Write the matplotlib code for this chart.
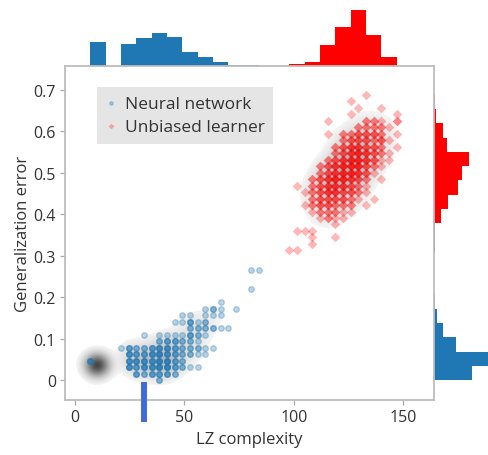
import numpy as np
import matplotlib
matplotlib.use("Agg")
import matplotlib.pyplot as plt


plt.rcParams['font.family'] = ['Open Sans', 'DejaVu Sans']

# grid steps of the two quantities
LZ_STEP = 3.5
ERR_STEP = 1.0 / 64

# neural network points: error index -> {lz index: how many overlap}
nn_rows = {
    0: {11: 2},
    1: {8: 3, 9: 2, 10: 3, 11: 3, 12: 3, 13: 2},
    2: {7: 4, 8: 3, 9: 4, 10: 4, 11: 5, 12: 5, 13: 3, 14: 2, 15: 1, 16: 1},
    3: {2: 3, 7: 4, 8: 4, 9: 4, 10: 4, 11: 5, 12: 5, 13: 3, 14: 2},
    4: {7: 4, 8: 3, 9: 3, 10: 4, 11: 5, 12: 4, 13: 3, 14: 2, 15: 2, 16: 1, 17: 1},
    5: {6: 1, 7: 3, 8: 2, 9: 2, 10: 3, 11: 4, 12: 4, 13: 3, 14: 2, 15: 2, 16: 2, 17: 1, 18: 1},
    6: {11: 2, 12: 3, 13: 3, 14: 2, 15: 2, 16: 1},
    7: {9: 1, 11: 1, 12: 1, 13: 1, 14: 1, 15: 3, 16: 2, 17: 1},
    8: {15: 2, 16: 2, 17: 2, 18: 2, 19: 1, 20: 1},
    9: {13: 1, 14: 1, 15: 3, 16: 1, 17: 2},
    10: {14: 1, 15: 1, 17: 1, 18: 1, 19: 1},
    11: {17: 1, 18: 2, 19: 1, 21: 1},
    12: {19: 1},
    14: {23: 1},
    17: {23: 1, 24: 1},
}

# unbiased learner points
ub_rows = {
    44: {38: 1},
    43: {36: 1},
    42: {37: 1, 40: 1},
    41: {36: 1, 42: 1},
    40: {33: 1, 38: 2, 39: 2, 40: 1, 42: 2},
    39: {37: 2, 38: 2, 39: 2, 40: 2, 41: 1},
    38: {33: 1, 35: 2, 36: 2, 37: 3, 38: 3, 39: 3, 40: 2, 42: 1},
    37: {35: 2, 36: 3, 37: 3, 38: 3, 39: 2, 40: 3, 41: 1},
    36: {34: 2, 35: 3, 36: 4, 37: 4, 38: 3, 39: 3, 40: 2, 42: 1},
    35: {34: 2, 35: 3, 36: 4, 37: 5, 38: 4, 39: 3, 40: 2, 41: 1},
    34: {33: 2, 34: 3, 35: 4, 36: 5, 37: 5, 38: 4, 39: 3, 40: 1, 41: 1},
    33: {32: 2, 33: 3, 34: 4, 35: 5, 36: 5, 37: 5, 38: 3, 39: 2, 40: 1},
    32: {32: 2, 33: 3, 34: 4, 35: 5, 36: 5, 37: 4, 38: 3, 39: 1},
    31: {31: 2, 32: 3, 33: 4, 34: 5, 35: 5, 36: 4, 37: 3, 38: 2, 40: 1},
    30: {29: 1, 31: 2, 32: 3, 33: 4, 34: 4, 35: 4, 36: 3, 37: 2, 38: 1},
    29: {30: 1, 31: 2, 32: 3, 33: 4, 34: 4, 35: 3, 36: 3, 37: 2, 38: 1},
    28: {31: 2, 32: 3, 33: 3, 34: 3, 35: 3, 36: 2, 37: 1, 39: 1},
    27: {30: 1, 31: 2, 32: 3, 33: 3, 34: 2, 35: 2, 36: 2, 38: 1},
    26: {31: 1, 32: 2, 33: 2, 34: 2, 35: 1, 36: 1},
    25: {32: 1, 33: 2, 34: 1, 35: 1},
    24: {34: 1},
    23: {29: 1, 30: 1, 31: 1},
    22: {31: 1, 34: 1},
    21: {31: 1},
    20: {28: 1, 29: 1},
}

# dense spot of low complexity networks (only in the density estimate)
nn_low_lz = 10.0
nn_low_err = 0.035
nn_low_weight = 90

# marginal histograms
top_edges = np.arange(0, 154, 7)
nn_top = [0, 24.3, 0, 22, 27.7, 32.7, 29.3, 14.3, 8.7, 3.7, 1.3, 1.0,
          0, 0, 0, 0, 0, 0, 0, 0, 0]
ub_top = [0, 0, 0, 0, 0, 0, 0, 0, 0, 0, 0, 0, 0, 0,
          1.7, 4.3, 21.3, 38.7, 56, 31.3, 9.3]

right_edges = np.linspace(0, 0.6875, 21)
nn_right = [38.3, 62, 22, 8.7, 3.3, 0.7, 0.4, 0, 0, 0,
            0, 0, 0, 0, 0, 0, 0, 0, 0, 0]
ub_right = [0, 0, 0, 0, 0, 0, 0, 0, 0, 0.5,
            1.0, 6.7, 14.3, 23.7, 27.7, 35, 13, 9, 1.7, 0.5]

target_lz = 31.5

xticks = [0, 50, 100, 150]
yticks = [0, 0.1, 0.2, 0.3, 0.4, 0.5, 0.6, 0.7]
ytick_labels = ['0', '0.1', '0.2', '0.3', '0.4', '0.5', '0.6', '0.7']


def flatten(rows):
    xs, ys, ns = [], [], []
    for j, cols in rows.items():
        for k, n in cols.items():
            xs.append(k * LZ_STEP)
            ys.append(j * ERR_STEP)
            ns.append(n)
    return np.array(xs), np.array(ys), np.array(ns)


def repeat(xs, ys, ns):
    return np.repeat(xs, ns), np.repeat(ys, ns)


def density(xs, ys, ws, X, Y, bx, by):
    d = np.zeros_like(X)
    for x, y, w in zip(xs, ys, ws):
        d += w * np.exp(-0.5 * (((X - x) / bx) ** 2 + ((Y - y) / by) ** 2))
    return d


def shade(ax, d, extent):
    a = np.where(d < 0.05, 0, d)
    img = np.zeros(d.shape + (4,))
    img[..., :3] = 0.15
    img[..., 3] = a
    ax.imshow(img, extent=extent, origin='lower', aspect='auto',
              interpolation='bilinear', zorder=1)


nn_x, nn_y, nn_n = flatten(nn_rows)
ub_x, ub_y, ub_n = flatten(ub_rows)

W, H = 488, 456
fig = plt.figure(figsize=(W / 100, H / 100), dpi=100)

xlim = (-4.6, 164.1)
ylim = (-0.048, 0.757)

ax_top = fig.add_axes([65 / W, 389 / H, 369 / W, 67 / H])
ax_right = fig.add_axes([434 / W, 55 / H, 54 / W, 334 / H])
ax = fig.add_axes([65 / W, 55 / H, 369 / W, 334 / H])
ax.set_zorder(3)

# density shading
gx = np.linspace(xlim[0], xlim[1], 400)
gy = np.linspace(ylim[0], ylim[1], 400)
X, Y = np.meshgrid(gx, gy)
extent = [xlim[0], xlim[1], ylim[0], ylim[1]]

d_nn = density(np.append(nn_x, nn_low_lz), np.append(nn_y, nn_low_err),
               np.append(nn_n, nn_low_weight), X, Y, 4.0, 0.02)
d_ub = density(ub_x, ub_y, ub_n, X, Y, 4.5, 0.026)
d_all = d_nn / d_nn.max() * 0.85 + d_ub / d_ub.max() * 0.38
shade(ax, d_all, extent)

px, py = repeat(nn_x, nn_y, nn_n)
ax.scatter(px, py, s=16, color='#1f77b4', alpha=0.3, zorder=2,
           label='Neural network')
px, py = repeat(ub_x, ub_y, ub_n)
ax.scatter(px, py, s=24, marker='D', color='red', alpha=0.28, linewidths=0,
           zorder=2, label='Unbiased learner')

ax.vlines(target_lz, -0.101, -0.005, colors='#4169e1', linewidth=4.3,
          clip_on=False, zorder=5)

ax.set_xlim(xlim)
ax.set_ylim(ylim)
ax.set_xticks(xticks)
ax.set_yticks(yticks)
ax.set_yticklabels(ytick_labels)
for s in ax.spines.values():
    s.set_color('#bdbdbd')
    s.set_linewidth(1.3)
ax.tick_params(direction='out', length=3.5, width=0.9, color='#aaaaaa',
               labelcolor='#333333', labelsize=11.5, pad=3)
ax.set_xlabel('LZ complexity', fontsize=12, color='#333333', labelpad=4)
ax.set_ylabel('Generalization error', fontsize=12, color='#333333', labelpad=2)

leg = ax.legend(loc='upper left', bbox_to_anchor=(0.087, 0.937),
                borderaxespad=0, frameon=True, facecolor='#e5e5e5',
                edgecolor='none', fancybox=False, framealpha=1,
                fontsize=12.5, handlelength=0.6, handletextpad=0.5,
                markerscale=0.6, borderpad=0.5, labelspacing=0.4)
for t in leg.get_texts():
    t.set_color('#333333')

# marginals
ax_top.bar(top_edges[:-1], nn_top, width=7, align='edge', color='#1f77b4')
ax_top.bar(top_edges[:-1], ub_top, width=7, align='edge', color='red')
ax_top.set_xlim(xlim)
ax_top.set_ylim(0, 67)
ax_top.axis('off')

step = right_edges[1] - right_edges[0]
ax_right.barh(right_edges[:-1], nn_right, height=step, align='edge', color='#1f77b4')
ax_right.barh(right_edges[:-1], ub_right, height=step, align='edge', color='red')
ax_right.set_ylim(ylim)
ax_right.set_xlim(0, 54)
ax_right.axis('off')

fig.savefig('out.png', dpi=100)
